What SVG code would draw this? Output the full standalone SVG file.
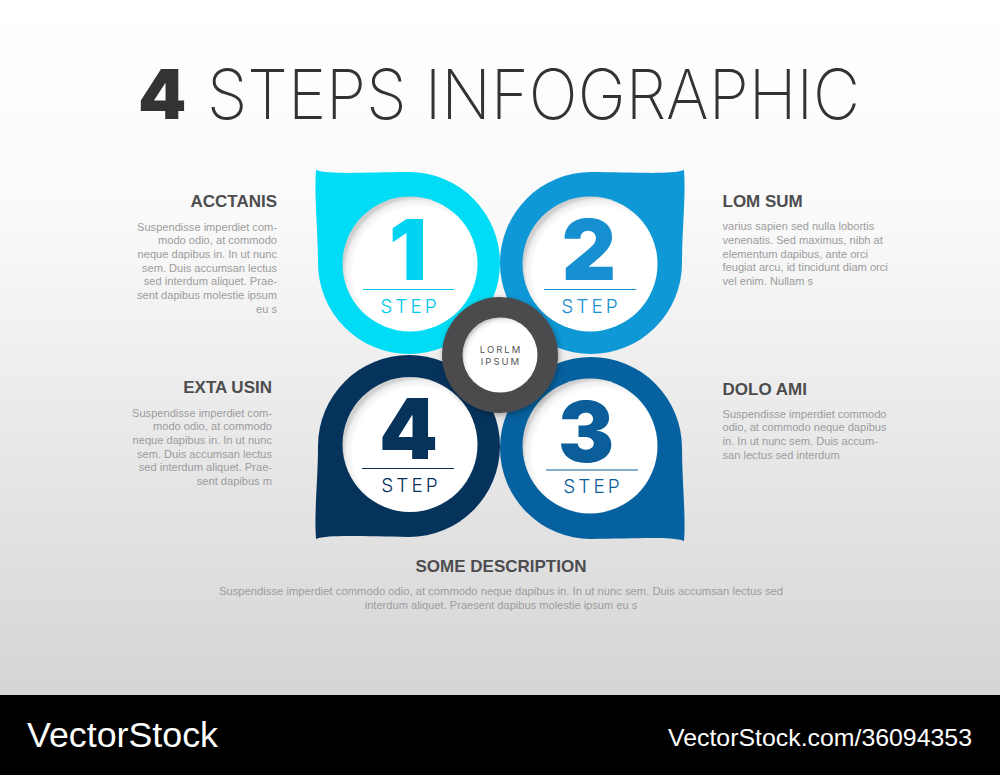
<svg xmlns="http://www.w3.org/2000/svg" width="1000" height="775" viewBox="0 0 1000 775">
<defs>
<linearGradient id="bg" x1="0" y1="0" x2="0" y2="1">
<stop offset="0" stop-color="#ffffff"/>
<stop offset="0.3" stop-color="#fafafa"/>
<stop offset="1" stop-color="#d5d5d6"/>
</linearGradient>
<radialGradient id="hole" cx="0.56" cy="0.56" r="0.56">
<stop offset="0.86" stop-color="#ffffff"/>
<stop offset="0.95" stop-color="#efefef"/>
<stop offset="1" stop-color="#cfcfcf"/>
</radialGradient>
<filter id="ds" x="-20%" y="-20%" width="140%" height="140%">
<feGaussianBlur in="SourceAlpha" stdDeviation="3"/>
<feOffset dx="1" dy="2"/>
<feComponentTransfer><feFuncA type="linear" slope="0.35"/></feComponentTransfer>
<feMerge><feMergeNode/><feMergeNode in="SourceGraphic"/></feMerge>
</filter>
<style>
.head{font-family:"Liberation Sans",Arial,sans-serif;font-weight:700;font-size:17px;fill:#4d4d4f}
.body{font-family:"Liberation Sans",Arial,sans-serif;font-size:11.1px;fill:#9c9c9c}
.num{font-family:Inter,"Liberation Sans",sans-serif;font-weight:900;font-size:84px;text-anchor:middle}
.step{font-family:Inter,"Liberation Sans",sans-serif;font-weight:300;font-size:19px;letter-spacing:3px;text-anchor:middle}
.ctr{font-family:Inter,"Liberation Sans",sans-serif;font-size:9.5px;letter-spacing:2px;fill:#555555;text-anchor:middle}
.r{text-anchor:end}
.c{text-anchor:middle}
</style>
</defs>
<rect x="0" y="0" width="1000" height="695" fill="url(#bg)"/>
<rect x="0" y="695" width="1000" height="80" fill="#000000"/>

<g id="title">
<text x="138" y="119" font-family="Inter,'Liberation Sans',sans-serif" font-weight="900" font-size="69" fill="#333333">4</text>
<text x="207" y="119" font-family="Inter,'Liberation Sans',sans-serif" font-weight="200" font-size="69" fill="#333333" textLength="653" lengthAdjust="spacingAndGlyphs">STEPS INFOGRAPHIC</text>
</g>

<g id="connectors"></g>

<g id="step1">
<path d="M316,170 C330,175 370,172 409,172 A91,91 0 1 1 318,263 C318,230 314,195 316,170 Z" fill="#00dcf5"/>
<circle cx="410" cy="264" r="67.5" fill="url(#hole)"/>
<text class="num" x="408" y="280" fill="#00d4f2">1</text>
<line x1="363" y1="289.5" x2="454" y2="289.5" stroke="#00c8ee" stroke-width="1.2"/>
<text class="step" x="410" y="312.5" fill="#00c8ee">STEP</text>
</g>

<g id="step2">
<path d="M684,170 C670,175 630,172 591,172 A91,91 0 1 0 682,263 C682,230 686,195 684,170 Z" fill="#0e98d6"/>
<circle cx="590" cy="264" r="67.5" fill="url(#hole)"/>
<text class="num" x="589" y="280" fill="#1690d0">2</text>
<line x1="544" y1="289.5" x2="636" y2="289.5" stroke="#1690d0" stroke-width="1.2"/>
<text class="step" x="591" y="312.5" fill="#1690d0">STEP</text>
</g>

<g id="step3">
<path d="M684,541 C670,536 630,539 591,539 A91,91 0 1 1 682,448 C682,481 686,516 684,541 Z" fill="#05619f"/>
<circle cx="590" cy="446" r="67.5" fill="url(#hole)"/>
<text class="num" x="586" y="461.5" fill="#0b5e9a">3</text>
<line x1="546" y1="470" x2="638" y2="470" stroke="#0b5e9a" stroke-width="1.2"/>
<text class="step" x="593" y="492.5" fill="#0b5e9a">STEP</text>
</g>

<g id="step4">
<path d="M316,539 C330,534 370,537 409,537 A91,91 0 1 0 318,446 C318,479 314,514 316,539 Z" fill="#05335c"/>
<circle cx="410" cy="444.5" r="67.5" fill="url(#hole)"/>
<text class="num" x="408.5" y="459" fill="#07335b">4</text>
<line x1="362" y1="468.5" x2="454" y2="468.5" stroke="#07335b" stroke-width="1.2"/>
<text class="step" x="411" y="491.5" fill="#07335b">STEP</text>
</g>

<g id="center">
<circle cx="500" cy="355" r="58" fill="#4b4b4d" filter="url(#ds)"/>
<circle cx="500" cy="355" r="37.5" fill="url(#hole)"/>
<text class="ctr" x="501" y="352.5">LORLM</text>
<text class="ctr" x="501" y="364.5">IPSUM</text>
</g>

<g id="acctanis">
<text class="head r" x="277" y="207.3">ACCTANIS</text>
<text class="body r" x="277" y="230.7">Suspendisse imperdiet com-</text>
<text class="body r" x="277" y="244.4">modo odio, at commodo</text>
<text class="body r" x="277" y="258">neque dapibus in. In ut nunc</text>
<text class="body r" x="277" y="271.7">sem. Duis accumsan lectus</text>
<text class="body r" x="277" y="285.4">sed interdum aliquet. Prae-</text>
<text class="body r" x="277" y="299">sent dapibus molestie ipsum</text>
<text class="body r" x="277" y="312.7">eu s</text>
</g>

<g id="lomsum">
<text class="head" x="722.5" y="207.3">LOM SUM</text>
<text class="body" x="722.5" y="230.3">varius sapien sed nulla lobortis</text>
<text class="body" x="722.5" y="244">venenatis. Sed maximus, nibh at</text>
<text class="body" x="722.5" y="257.7">elementum dapibus, ante orci</text>
<text class="body" x="722.5" y="271.3">feugiat arcu, id tincidunt diam orci</text>
<text class="body" x="722.5" y="285">vel enim. Nullam s</text>
</g>

<g id="extausin">
<text class="head r" x="272" y="393.3">EXTA USIN</text>
<text class="body r" x="272" y="416.7">Suspendisse imperdiet com-</text>
<text class="body r" x="272" y="430.4">modo odio, at commodo</text>
<text class="body r" x="272" y="444">neque dapibus in. In ut nunc</text>
<text class="body r" x="272" y="457.7">sem. Duis accumsan lectus</text>
<text class="body r" x="272" y="471.4">sed interdum aliquet. Prae-</text>
<text class="body r" x="272" y="485">sent dapibus m</text>
</g>

<g id="doloami">
<text class="head" x="722.5" y="395">DOLO AMI</text>
<text class="body" x="722.5" y="417.7">Suspendisse imperdiet commodo</text>
<text class="body" x="722.5" y="431.4">odio, at commodo neque dapibus</text>
<text class="body" x="722.5" y="445">in. In ut nunc sem. Duis accum-</text>
<text class="body" x="722.5" y="458.7">san lectus sed interdum</text>
</g>

<g id="description">
<text class="head c" x="501" y="572">SOME DESCRIPTION</text>
<text class="body c" x="501" y="595" textLength="564" lengthAdjust="spacingAndGlyphs">Suspendisse imperdiet commodo odio, at commodo neque dapibus in. In ut nunc sem. Duis accumsan lectus sed</text>
<text class="body c" x="501" y="609">interdum aliquet. Praesent dapibus molestie ipsum eu s</text>
</g>

<g id="footer">
<text x="27" y="746.5" font-family="'Liberation Sans',Arial,sans-serif" font-size="35" fill="#ffffff" textLength="191" lengthAdjust="spacingAndGlyphs">VectorStock</text>
<text x="668" y="746" font-family="'Liberation Sans',Arial,sans-serif" font-size="24.5" fill="#ffffff" textLength="304" lengthAdjust="spacingAndGlyphs">VectorStock.com/36094353</text>
</g>
</svg>
